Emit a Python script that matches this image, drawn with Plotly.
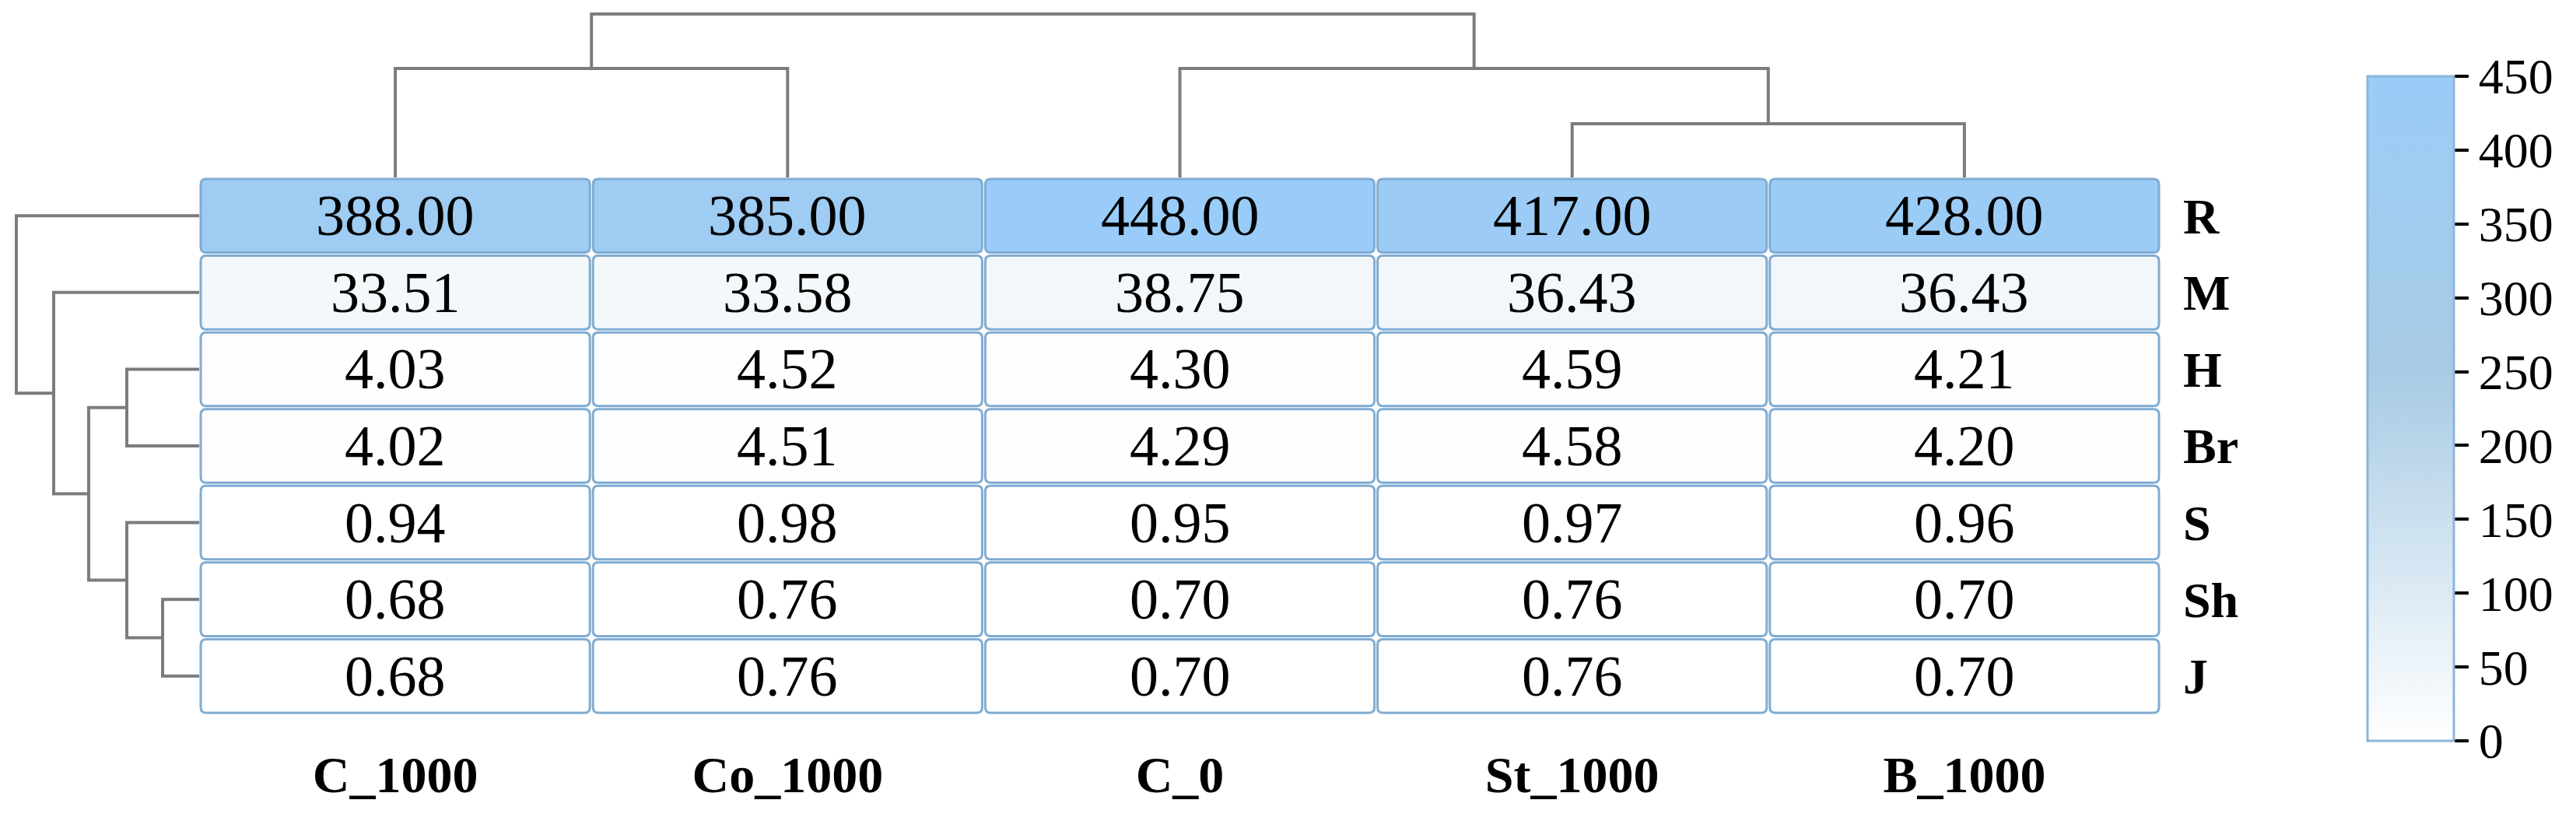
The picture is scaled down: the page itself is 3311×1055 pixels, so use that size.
import plotly.graph_objects as go

# heatmap data (rows top to bottom, columns left to right)
cols = ['C_1000', 'Co_1000', 'C_0', 'St_1000', 'B_1000']
rows = ['R', 'M', 'H', 'Br', 'S', 'Sh', 'J']
R = [388.00, 385.00, 448.00, 417.00, 428.00]
M = [33.51, 33.58, 38.75, 36.43, 36.43]
H = [4.03, 4.52, 4.30, 4.59, 4.21]
Br = [4.02, 4.51, 4.29, 4.58, 4.20]
S = [0.94, 0.98, 0.95, 0.97, 0.96]
Sh = [0.68, 0.76, 0.70, 0.76, 0.70]
J = [0.68, 0.76, 0.70, 0.76, 0.70]
z = [R, M, H, Br, S, Sh, J]

# dendrogram merges: (left node, right node, distance); leaves are 0..n-1
col_links = [(3, 4, 69), (0, 1, 140), (2, 5, 140), (6, 7, 210)]
row_links = [(5, 6, 47), (4, 7, 93), (2, 3, 93), (9, 8, 142), (1, 10, 187), (0, 11, 235)]

colorscale = [[0.0, '#ffffff'], [0.55, '#a9cbe4'], [1.0, '#99ccf8']]
zmin, zmax = 0, 450
FONT = 'Liberation Serif'


def to_rgb(h):
    h = h.lstrip('#')
    return [int(h[i:i + 2], 16) for i in (0, 2, 4)]


def cell_color(v):
    t = min(max((v - zmin) / (zmax - zmin), 0), 1)
    for (a, ca), (b, cb) in zip(colorscale[:-1], colorscale[1:]):
        if a <= t <= b:
            f = (t - a) / (b - a)
            c1, c2 = to_rgb(ca), to_rgb(cb)
            return 'rgb(%d,%d,%d)' % tuple(round(c1[i] + (c2[i] - c1[i]) * f) for i in range(3))
    return colorscale[-1][1]


def dendro_segments(links, n):
    # position and height of each node, then the bracket path for every merge
    pos = {i: float(i) for i in range(n)}
    hgt = {i: 0.0 for i in range(n)}
    xs, ys = [], []
    for k, (a, b, h) in enumerate(links):
        node = n + k
        xs += [pos[a], pos[a], pos[b], pos[b], None]
        ys += [hgt[a], h, h, hgt[b], None]
        pos[node] = (pos[a] + pos[b]) / 2
        hgt[node] = h
    return xs, ys


# page has an 8px body margin, so the figure is a bit smaller than the window
OFF = 8
W, Hh = 3311 - 2 * OFF, 1055 - 2 * OFF


def px(x):
    return (x - OFF) / W


def py(y):
    return 1 - (y - OFF) / Hh


x0p, x1p = px(256), px(2777)
y0p, y1p = py(918), py(228)

fig = go.Figure()

fig.add_trace(go.Heatmap(
    z=z, x=list(range(len(cols))), y=list(range(len(rows))),
    zmin=zmin, zmax=zmax, colorscale=colorscale,
    xgap=40, ygap=40, hoverinfo='skip',
    colorbar=dict(
        x=px(3043), xanchor='left', xpad=0, ypad=0,
        y=py(525), yanchor='middle', len=854 / Hh, lenmode='fraction',
        thickness=111, outlinecolor='#8db5d6', outlinewidth=3,
        tickmode='linear', tick0=0, dtick=50,
        ticks='outside', ticklen=18, tickwidth=4, tickcolor='black',
        tickfont=dict(family=FONT, size=64, color='black'),
    ),
))

# top dendrogram (columns)
cx, cy = dendro_segments(col_links, len(cols))
fig.add_trace(go.Scatter(x=cx, y=cy, mode='lines', xaxis='x2', yaxis='y2',
                         line=dict(color='#7c7c7c', width=4), hoverinfo='skip', showlegend=False))
# left dendrogram (rows)
ry, rx = dendro_segments(row_links, len(rows))
fig.add_trace(go.Scatter(x=rx, y=ry, mode='lines', xaxis='x3', yaxis='y3',
                         line=dict(color='#7c7c7c', width=4), hoverinfo='skip', showlegend=False))

# rounded cells with borders and value labels
gx, gy = 2 / 504.0, 2 / 98.6
rdx, rdy = 7 / 504.0, 7 / 98.6
shapes, annos = [], []
for i, row in enumerate(z):
    for j, v in enumerate(row):
        a0, a1 = j - 0.5 + gx, j + 0.5 - gx
        b0, b1 = i - 0.5 + gy, i + 0.5 - gy
        path = (f'M {a0 + rdx},{b0} L {a1 - rdx},{b0} Q {a1},{b0} {a1},{b0 + rdy} '
                f'L {a1},{b1 - rdy} Q {a1},{b1} {a1 - rdx},{b1} L {a0 + rdx},{b1} '
                f'Q {a0},{b1} {a0},{b1 - rdy} L {a0},{b0 + rdy} Q {a0},{b0} {a0 + rdx},{b0} Z')
        shapes.append(dict(type='path', path=path, xref='x', yref='y', layer='above',
                           fillcolor=cell_color(v), line=dict(color='#80acd2', width=3)))
        annos.append(dict(x=j, y=i, xref='x', yref='y', text=f'{v:.2f}', showarrow=False,
                          font=dict(family=FONT, size=74, color='black')))

fig.update_layout(
    width=W, height=Hh,
    margin=dict(l=0, r=0, t=0, b=0),
    paper_bgcolor='white', plot_bgcolor='white',
    showlegend=False,
    shapes=shapes, annotations=annos,
    xaxis=dict(domain=[x0p, x1p], range=[-0.5, len(cols) - 0.5],
               tickmode='array', tickvals=list(range(len(cols))), ticktext=cols,
               showgrid=False, zeroline=False, showline=False, ticks='',
               ticklabelstandoff=33,
               tickfont=dict(family=FONT, size=66, color='black', weight='bold')),
    yaxis=dict(domain=[y0p, y1p], range=[len(rows) - 0.5, -0.5], side='right',
               tickmode='array', tickvals=list(range(len(rows))), ticktext=rows,
               showgrid=False, zeroline=False, showline=False, ticks='',
               ticklabelstandoff=28,
               tickfont=dict(family=FONT, size=64, color='black', weight='bold')),
    xaxis2=dict(domain=[x0p, x1p], range=[-0.5, len(cols) - 0.5], anchor='y2',
                visible=False),
    yaxis2=dict(domain=[y1p, 1.0], range=[0, 228 - OFF], anchor='x2', visible=False),
    xaxis3=dict(domain=[0, x0p], range=[256 - OFF, 0], anchor='y3', visible=False),
    yaxis3=dict(domain=[y0p, y1p], range=[len(rows) - 0.5, -0.5], anchor='x3',
                visible=False),
)

fig.write_html('out.html')
